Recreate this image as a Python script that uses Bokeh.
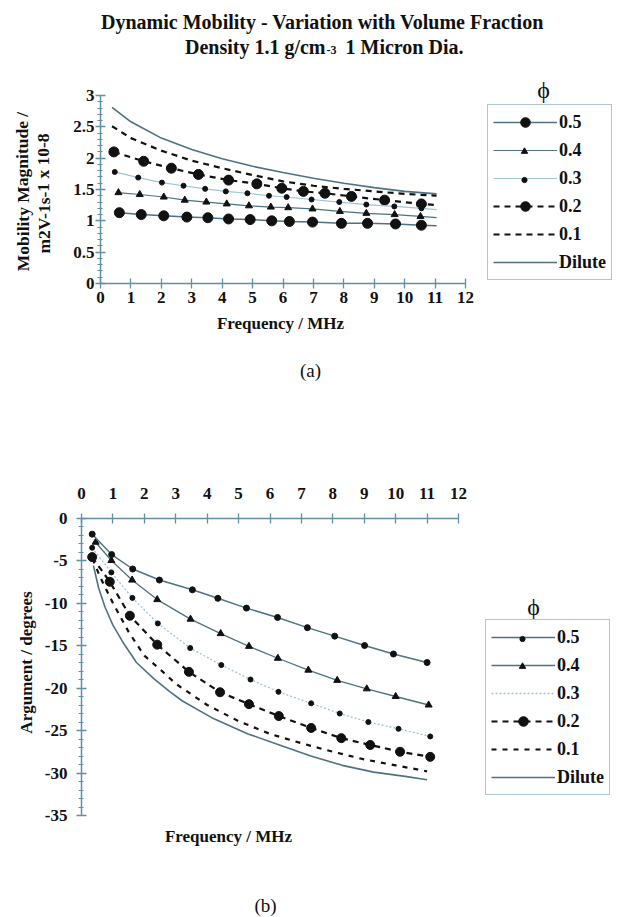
from bokeh.plotting import figure
from bokeh.models import (FixedTicker, Label, Legend, LegendItem, NumeralTickFormatter,
                          Range1d, LinearAxis, BasicTickFormatter)
from bokeh.layouts import column
from bokeh.embed import file_html
from bokeh.resources import INLINE

# ---------------- data : (a) mobility magnitude ----------------
a_x_05 = [0.62, 1.34, 2.08, 2.84, 3.53, 4.21, 4.92, 5.63, 6.21, 6.97, 7.92, 8.78, 9.70, 10.55, 11.05]
a_y_05 = [1.13, 1.10, 1.08, 1.06, 1.05, 1.03, 1.02, 1.00, 0.99, 0.98, 0.96, 0.96, 0.95, 0.93, 0.92]
a_x_04 = [0.59, 1.29, 2.08, 2.77, 3.48, 4.15, 4.88, 5.60, 6.17, 6.97, 7.87, 8.74, 9.67, 10.52, 11.05]
a_y_04 = [1.45, 1.42, 1.38, 1.33, 1.30, 1.27, 1.24, 1.22, 1.21, 1.19, 1.15, 1.12, 1.10, 1.07, 1.05]
a_x_03 = [0.47, 1.24, 2.02, 2.73, 3.44, 4.12, 4.83, 5.54, 6.12, 6.94, 7.85, 8.74, 9.66, 10.55, 11.05]
a_y_03 = [1.78, 1.69, 1.61, 1.56, 1.51, 1.47, 1.44, 1.40, 1.38, 1.34, 1.30, 1.26, 1.23, 1.20, 1.18]
a_x_02 = [0.44, 1.42, 2.33, 3.22, 4.21, 5.14, 5.96, 6.67, 7.38, 8.25, 9.34, 10.55, 11.05]
a_y_02 = [2.10, 1.95, 1.84, 1.74, 1.65, 1.59, 1.52, 1.47, 1.44, 1.39, 1.33, 1.27, 1.25]
a_x_01 = [0.38, 1, 2, 3, 4, 5, 6, 7, 8, 9, 10, 11.05]
a_y_01 = [2.51, 2.32, 2.12, 1.96, 1.84, 1.73, 1.63, 1.56, 1.51, 1.47, 1.43, 1.40]
a_x_dil = [0.38, 1, 2, 3, 4, 5, 6, 7, 8, 9, 10, 11.05]
a_y_dil = [2.81, 2.58, 2.32, 2.14, 1.99, 1.87, 1.77, 1.68, 1.60, 1.53, 1.47, 1.43]

# ---------------- data : (b) argument ----------------
b_x_05 = [0.34, 0.96, 1.63, 2.48, 3.53, 4.34, 5.25, 6.24, 7.19, 8.06, 9.01, 9.93, 11.0]
b_y_05 = [-1.9, -4.3, -6.0, -7.3, -8.45, -9.45, -10.6, -11.7, -12.9, -13.9, -15.0, -16.0, -17.0]
b_x_04 = [0.45, 0.95, 1.61, 2.41, 3.47, 4.43, 5.33, 6.25, 7.22, 8.14, 9.08, 10.0, 11.05]
b_y_04 = [-2.85, -5.0, -7.3, -9.6, -11.9, -13.6, -15.1, -16.5, -17.9, -19.1, -20.1, -21.0, -22.0]
b_x_03 = [0.34, 0.95, 1.62, 2.43, 3.46, 4.45, 5.38, 6.27, 7.31, 8.22, 9.13, 10.09, 11.1]
b_y_03 = [-3.5, -6.4, -9.4, -12.4, -15.3, -17.3, -19.0, -20.45, -21.8, -23.0, -24.0, -24.8, -25.7]
b_x_02 = [0.34, 0.9, 1.54, 2.41, 3.42, 4.41, 5.33, 6.28, 7.31, 8.27, 9.19, 10.14, 11.1]
b_y_02 = [-4.6, -7.5, -11.5, -14.9, -18.1, -20.5, -21.9, -23.3, -24.7, -25.9, -26.7, -27.5, -28.1]
b_x_01 = [0.35, 0.6, 1, 1.5, 2, 2.5, 3, 4, 5, 6, 7, 8, 9, 10, 11]
b_y_01 = [-4.8, -7.0, -10.0, -13.4, -16.2, -17.8, -19.5, -22.0, -23.9, -25.4, -26.5, -27.5, -28.4, -29.1, -29.8]
b_x_dil = [0.38, 0.55, 0.75, 1, 1.35, 1.75, 2.3, 2.8, 3.2, 4.2, 5.3, 6.3, 7.3, 8.3, 9.3, 10.3, 11.0]
b_y_dil = [-5.6, -8.3, -10.5, -12.6, -14.8, -17.0, -18.9, -20.4, -21.5, -23.6, -25.4, -26.7, -28.0, -29.1, -29.9, -30.4, -30.8]

series_labels = ["0.5", "0.4", "0.3", "0.2", "0.1", "Dilute"]
x_ticks = list(range(0, 13))
a_y_ticks = [0, 0.5, 1, 1.5, 2, 2.5, 3]
b_y_ticks = [0, -5, -10, -15, -20, -25, -30, -35]

TITLE_1 = "Dynamic Mobility - Variation with Volume Fraction"
TITLE_2A = "Density 1.1 g/cm"
TITLE_2S = "-3"
TITLE_2B = "1 Micron Dia."
A_YLAB_1 = "Mobility Magnitude /"
A_YLAB_2 = "m2V-1s-1 x 10-8"
B_YLAB = "Argument / degrees"
XLAB = "Frequency / MHz"
PHI = "\u03d5"

SERIF = "Liberation Serif"
AXIS = "#5f90a4"
LINE = "#4d7282"
LIGHT = "#9dc4d8"
INK = "#111111"
W = 617

# legend geometry (pixels)
LG_GW, LG_GH, LG_SP, LG_PAD = 64, 24, 4, 5


def make_fig(h, x0_px, x12_px, ytop_val, ytop_px, ybot_val, ybot_px):
    # frame covers the whole canvas; ranges chosen so that axis points land on given pixels
    sx = (x12_px - x0_px) / 12.0
    xs, xe = -x0_px / sx, (W - x0_px) / sx
    sy = (ybot_px - ytop_px) / (ytop_val - ybot_val)
    ye = ytop_val + ytop_px / sy
    ys = ybot_val - (h - ybot_px) / sy
    p = figure(width=W, height=h, x_range=Range1d(xs, xe), y_range=Range1d(ys, ye),
               x_axis_type=None, y_axis_type=None, output_backend="svg", toolbar_location=None,
               min_border=0, min_border_left=0, min_border_right=0, min_border_top=0, min_border_bottom=0)
    p.outline_line_color = None
    p.grid.visible = False
    return p


def style_axis(ax, standoff):
    ax.axis_line_color = AXIS
    ax.axis_line_width = 1.5
    ax.major_tick_line_color = AXIS
    ax.major_tick_line_width = 1.3
    ax.minor_tick_line_color = AXIS
    ax.major_tick_in = 5
    ax.major_tick_out = 5
    ax.minor_tick_in = 2
    ax.minor_tick_out = 3
    ax.major_label_text_font = SERIF
    ax.major_label_text_font_style = "bold"
    ax.major_label_text_font_size = "17px"
    ax.major_label_text_color = INK
    ax.major_label_standoff = standoff


def label(p, h, text, cx, cy, size="17px", bold=True, angle=0.0, align="center"):
    p.add_layout(Label(x=cx, y=h - cy, x_units="screen", y_units="screen", text=text,
                       text_font=SERIF, text_font_size=size,
                       text_font_style="bold" if bold else "normal",
                       text_align=align, text_baseline="middle", angle=angle, text_color=INK))


def add_legend(p, h, items, left, top, small_markers):
    # main legend: lines (and large markers) with labels
    p.add_layout(Legend(items=items, location=(left, h - (top + 2 * LG_PAD + 6 * LG_GH + 5 * LG_SP)),
                        glyph_width=LG_GW, glyph_height=LG_GH, label_height=LG_GH,
                        label_standoff=2, spacing=LG_SP, padding=LG_PAD, margin=0,
                        border_line_color=AXIS, border_line_width=1.2,
                        background_fill_color="white", background_fill_alpha=1.0,
                        label_text_font=SERIF, label_text_font_style="bold", label_text_font_size="18px",
                        label_text_color=INK))
    # small markers drawn at their own (smaller) legend glyph size, one row each
    for row, renderer, gh in small_markers:
        cy = top + LG_PAD + LG_GH / 2 + row * (LG_GH + LG_SP)
        p.add_layout(Legend(items=[LegendItem(label=" ", renderers=[renderer])],
                            location=(left + LG_PAD, h - (cy + gh / 2)),
                            glyph_width=LG_GW, glyph_height=gh, label_height=1, label_standoff=0,
                            spacing=0, padding=0, margin=0, border_line_color=None,
                            background_fill_alpha=0.0, label_text_font_size="1px"))


# ---------------- figure (a) ----------------
A_H = 460
pa = make_fig(A_H, 100, 465, 3, 95, 0, 283)
xa = LinearAxis(fixed_location=0, bounds=(0, 12), ticker=FixedTicker(ticks=x_ticks))
style_axis(xa, 3)
pa.add_layout(xa, "below")
a_minor = [round(i * 0.1, 1) for i in range(31) if i % 5 != 0]
ya = LinearAxis(fixed_location=0, bounds=(0, 3), ticker=FixedTicker(ticks=a_y_ticks, minor_ticks=a_minor),
                formatter=NumeralTickFormatter(format="0.[0]"))
style_axis(ya, 1)
pa.add_layout(ya, "left")

la_dil = pa.line(a_x_dil, a_y_dil, line_color=LINE, line_width=1.6)
la_01 = pa.line(a_x_01, a_y_01, line_color=INK, line_width=2.2, line_dash="6 5")
la_02 = pa.line(a_x_02, a_y_02, line_color=INK, line_width=2.2, line_dash="6 5")
ma_02 = pa.scatter(a_x_02[:-1], a_y_02[:-1], marker="circle", size=10, color=INK)
la_03 = pa.line(a_x_03, a_y_03, line_color=LIGHT, line_width=1.2)
ma_03 = pa.scatter(a_x_03[:-1], a_y_03[:-1], marker="circle", size=5, color=INK)
la_04 = pa.line(a_x_04, a_y_04, line_color=LINE, line_width=1.2)
ma_04 = pa.scatter(a_x_04[:-1], a_y_04[:-1], marker="triangle", size=7, color=INK)
la_05 = pa.line(a_x_05, a_y_05, line_color=LINE, line_width=1.5)
ma_05 = pa.scatter(a_x_05[:-1], a_y_05[:-1], marker="circle", size=10, color=INK)

a_items = [LegendItem(label=series_labels[0], renderers=[la_05, ma_05]),
           LegendItem(label=series_labels[1], renderers=[la_04]),
           LegendItem(label=series_labels[2], renderers=[la_03]),
           LegendItem(label=series_labels[3], renderers=[la_02, ma_02]),
           LegendItem(label=series_labels[4], renderers=[la_01]),
           LegendItem(label=series_labels[5], renderers=[la_dil])]
add_legend(pa, A_H, a_items, 487, 106, [(1, ma_04, 16), (2, ma_03, 13)])

label(pa, A_H, TITLE_1, 322, 21, size="20px")
label(pa, A_H, TITLE_2A, 325, 46, size="20px", align="right")
label(pa, A_H, TITLE_2S, 326, 49, size="12px", align="left")
label(pa, A_H, TITLE_2B, 345, 46, size="20px", align="left")
label(pa, A_H, A_YLAB_1, 22, 191, size="17.5px", angle=1.5708)
label(pa, A_H, A_YLAB_2, 43, 193, size="17.5px", angle=1.5708)
label(pa, A_H, XLAB, 280, 323, size="17px")
label(pa, A_H, "(a)", 310, 370, size="19px", bold=False)
label(pa, A_H, PHI, 543, 89, size="24px", bold=False)

# ---------------- figure (b) ----------------
B_H = 457
pb = make_fig(B_H, 81, 458, 0, 57.5, -35, 355)
xb = LinearAxis(fixed_location=0, bounds=(0, 12), ticker=FixedTicker(ticks=x_ticks))
style_axis(xb, 14)
pb.add_layout(xb, "above")
b_minor = [-i for i in range(36) if i % 5 != 0]
yb = LinearAxis(fixed_location=0, bounds=(-35, 0), ticker=FixedTicker(ticks=b_y_ticks, minor_ticks=b_minor),
                formatter=BasicTickFormatter(),
                major_label_overrides={t: str(t) for t in b_y_ticks})
style_axis(yb, 9)
pb.add_layout(yb, "left")

lb_dil = pb.line(b_x_dil, b_y_dil, line_color=LINE, line_width=1.6)
lb_01 = pb.line(b_x_01, b_y_01, line_color=INK, line_width=2.2, line_dash="5 6")
lb_02 = pb.line(b_x_02, b_y_02, line_color=INK, line_width=2.2, line_dash="6 5")
mb_02 = pb.scatter(b_x_02, b_y_02, marker="circle", size=9, color=INK)
lb_03 = pb.line(b_x_03, b_y_03, line_color=LIGHT, line_width=1.3, line_dash="2 2")
mb_03 = pb.scatter(b_x_03, b_y_03, marker="circle", size=5, color=INK)
lb_04 = pb.line(b_x_04, b_y_04, line_color=LINE, line_width=1.3)
mb_04 = pb.scatter(b_x_04, b_y_04, marker="triangle", size=7, color=INK)
lb_05 = pb.line(b_x_05, b_y_05, line_color=LINE, line_width=1.5)
mb_05 = pb.scatter(b_x_05, b_y_05, marker="circle", size=6, color=INK)

b_items = [LegendItem(label=series_labels[0], renderers=[lb_05]),
           LegendItem(label=series_labels[1], renderers=[lb_04]),
           LegendItem(label=series_labels[2], renderers=[lb_03]),
           LegendItem(label=series_labels[3], renderers=[lb_02, mb_02]),
           LegendItem(label=series_labels[4], renderers=[lb_01]),
           LegendItem(label=series_labels[5], renderers=[lb_dil])]
add_legend(pb, B_H, b_items, 485, 621 - 460, [(0, mb_05, 13), (1, mb_04, 16)])

label(pb, B_H, B_YLAB, 26, 662 - 460, size="17px", angle=1.5708)
label(pb, B_H, XLAB, 228, 836 - 460, size="17px")
label(pb, B_H, "(b)", 265, 905 - 460, size="19px", bold=False)
label(pb, B_H, PHI, 533, 606 - 460, size="24px", bold=False)

layout = column(pa, pb, spacing=0)
open("out.html", "w").write(file_html(layout, INLINE))
